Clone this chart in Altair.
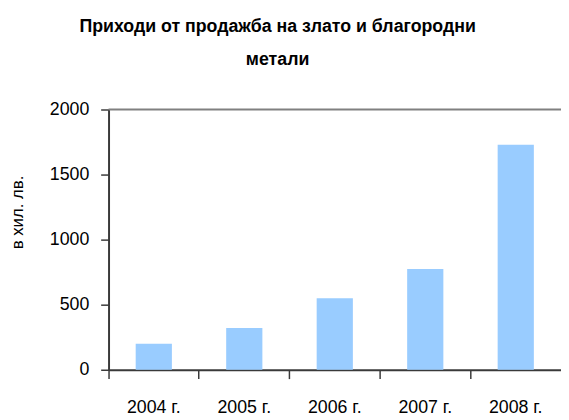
import altair as alt
import pandas as pd

years = ["2004 г.", "2005 г.", "2006 г.", "2007 г.", "2008 г."]
revenue = [200, 320, 550, 775, 1730]
y_ticks = [0, 500, 1000, 1500, 2000]
y_max = [2000]

title_lines = ["Приходи от продажба на злато и благородни", "метали"]
y_title = "в хил. лв."

df = pd.DataFrame({"year": years, "value": revenue})
top_df = pd.DataFrame({"value": y_max})

FONT = "Liberation Sans"
AX = "#3a3a3a"

y_scale = alt.Scale(domain=[0, 2000], nice=False)

bars = alt.Chart(df).mark_bar(color="#99CCFF", width={"band": 0.4}).encode(
    x=alt.X(
        "year:N",
        sort=years,
        title=None,
        scale=alt.Scale(paddingInner=0, paddingOuter=0),
        axis=alt.Axis(
            bandPosition=0,
            labelAngle=0,
            labelFont=FONT,
            labelFontSize=18,
            labelColor="#000000",
            labelPadding=20,
            tickSize=9,
            tickColor=AX,
            tickWidth=1.5,
            domainColor=AX,
            domainWidth=2,
            grid=False,
        ),
    ),
    y=alt.Y(
        "value:Q",
        title=y_title,
        scale=y_scale,
        axis=alt.Axis(
            values=y_ticks,
            format="d",
            labelFont=FONT,
            labelFontSize=18,
            labelColor="#000000",
            labelPadding=12,
            tickSize=8,
            tickColor=AX,
            tickWidth=1.5,
            domainColor=AX,
            domainWidth=2,
            grid=False,
            titleFont=FONT,
            titleFontSize=17,
            titleFontWeight="normal",
            titleColor="#000000",
            titleAngle=270,
            titleX=-92,
            titleY=104,
            titleAlign="center",
            titleBaseline="middle",
        ),
    ),
)

top_rule = alt.Chart(top_df).mark_rule(color="#808080", strokeWidth=2).encode(
    y=alt.Y("value:Q", scale=y_scale)
)

chart = alt.layer(bars, top_rule).properties(
    width=459,
    height=264,
    title=alt.TitleParams(
        text=title_lines,
        font=FONT,
        fontSize=18,
        fontWeight="bold",
        color="#000000",
        anchor="middle",
        dx=-58,
        lineHeight=34,
        offset=32,
    ),
    padding={"left": 102, "top": 100, "right": 0, "bottom": 48},
    autosize=alt.AutoSizeParams(type="none"),
).configure_view(stroke=None)

chart.save("out.html", embed_options={"renderer": "svg", "actions": False})
